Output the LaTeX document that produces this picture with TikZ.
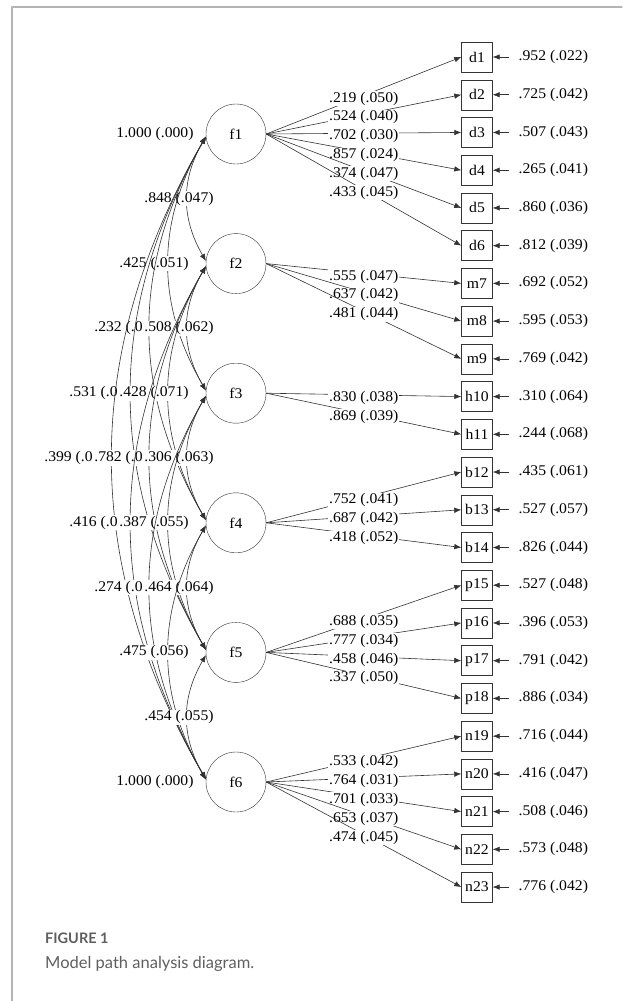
\documentclass[tikz,border=0pt]{standalone}
\usepackage{fontspec}
\setmainfont{Liberation Serif}[FakeStretch=1.06]
\newfontfamily\capfont{Lato}
\usetikzlibrary{arrows.meta}
\definecolor{framegray}{HTML}{B4B4B4}
\definecolor{capgray}{HTML}{5F5F5F}
\definecolor{linegray}{HTML}{333333}

\begin{document}
\begin{tikzpicture}[x=1pt,y=-1pt,line cap=round,line join=round,>={Latex[length=7pt,width=5.5pt]},
  lbl/.style={font=\fontsize{14.8}{16}\selectfont,inner sep=0.8pt},
  lat/.style={lbl,draw=linegray,circle,minimum size=60pt,inner sep=0pt},
  obs/.style={lbl,draw=linegray,minimum width=31pt,minimum height=30pt,inner sep=0pt},
  est/.style={lbl,fill=white},
  load/.style={draw=linegray,line width=0.6pt,->},
  cov/.style={draw=linegray,line width=0.6pt,<->}]
\useasboundingbox (0,0) rectangle (622,1001);
\draw[framegray,line width=1.2pt] (12,1001)--(12,7)--(622,7);
\def\fy{134}\def\fstep{129.6}\def\oy{57}\def\ostep{37.73}
% factors and indicators
\foreach \i in {1,...,6} \node[lat] (f\i) at (236,{\fy+\fstep*(\i-1)}) {f\i};
\foreach \n [count=\k from 0] in {d1,d2,d3,d4,d5,d6,m7,m8,m9,h10,h11,b12,b13,b14,p15,p16,p17,p18,n19,n20,n21,n22,n23}
  \node[obs] (\n) at (477,{\oy+\ostep*\k}) {\n};
% residuals
\foreach \n/\v in {d1/.952 (.022),d2/.725 (.042),d3/.507 (.043),d4/.265 (.041),d5/.860 (.036),d6/.812 (.039),
  m7/.692 (.052),m8/.595 (.053),m9/.769 (.042),h10/.310 (.064),h11/.244 (.068),b12/.435 (.061),b13/.527 (.057),
  b14/.826 (.044),p15/.527 (.048),p16/.396 (.053),p17/.791 (.042),p18/.886 (.034),n19/.716 (.044),n20/.416 (.047),
  n21/.508 (.046),n22/.573 (.048),n23/.776 (.042)}{
  \node[lbl,anchor=west] (r\n) at ([xshift=25pt]\n.east) {\v};
  \draw[load] ([xshift=-9pt]r\n.west)--(\n.east);}
% loadings
\foreach \f/\n/\v in {1/d1/.219 (.050),1/d2/.524 (.040),1/d3/.702 (.030),1/d4/.857 (.024),1/d5/.374 (.047),1/d6/.433 (.045),
  2/m7/.555 (.047),2/m8/.637 (.042),2/m9/.481 (.044),3/h10/.830 (.038),3/h11/.869 (.039),
  4/b12/.752 (.041),4/b13/.687 (.042),4/b14/.418 (.052),5/p15/.688 (.035),5/p16/.777 (.034),5/p17/.458 (.046),5/p18/.337 (.050),
  6/n19/.533 (.042),6/n20/.764 (.031),6/n21/.701 (.033),6/n22/.653 (.037),6/n23/.474 (.045)}
  \draw[load] (f\f.east)--node[est,yshift=-3pt]{\v}(\n.west);
% covariances
\foreach \i/\j/\v in {1/2/.848 (.047),1/3/.425 (.051),1/4/.232 (.0\phantom{00)},1/5/.531 (.0\phantom{00)},1/6/.399 (.0\phantom{00)},
  2/3/.508 (.062),2/4/.428 (.071),2/5/.782 (.0\phantom{00)},2/6/.416 (.0\phantom{00)},3/4/.306 (.063),3/5/.387 (.055),
  3/6/.274 (.0\phantom{00)},4/5/.464 (.064),4/6/.475 (.056),5/6/.454 (.055)}{
  \pgfmathsetmacro\dd{\j-\i}\pgfmathsetmacro\dx{25*\dd}\pgfmathsetmacro\kk{43.2*\dd}
  \pgfmathsetmacro\cx{179-25*(\dd-1)}\pgfmathsetmacro\cy{\fy+\fstep*((\i+\j)/2-1)}
  \draw[cov] (f\i.185) .. controls +(-\dx,\kk) and +(-\dx,-\kk) .. (f\j.175);
  \node[est] (c\i\j) at (\cx,\cy) {\v};}
\node[lbl] (v1) at (155,\fy) {1.000 (.000)};
\node[lbl] (v6) at (155,{\fy+5*\fstep}) {1.000 (.000)};
% caption
\node[anchor=base west,inner sep=0pt,text=capgray,font=\capfont\bfseries\fontsize{14.5}{16}\selectfont] (figno) at (45,943) {FIGURE 1};
\node[anchor=base west,inner sep=0pt,text=capgray,font=\capfont\fontsize{16.5}{18}\selectfont] (figcap) at (45,968) {Model path analysis diagram.};
\end{tikzpicture}
\end{document}
